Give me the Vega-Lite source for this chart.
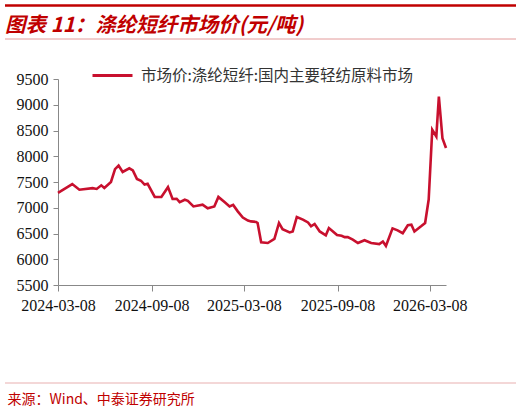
{
  "$schema": "https://vega.github.io/schema/vega-lite/v6.json",
  "width": 388,
  "height": 206,
  "autosize": {"type": "none"},
  "padding": {"left": 58, "top": 79, "right": 75, "bottom": 126},
  "background": "white",
  "title": {
    "text": "图表 11：涤纶短纤市场价(元/吨)",
    "anchor": "start",
    "frame": "group",
    "dx": -53,
    "offset": 0,
    "dy": 32,
    "font": "Noto Sans CJK SC",
    "fontSize": 20.5,
    "fontWeight": "bold",
    "fontStyle": "italic",
    "color": "#C00000"
  },
  "config": {
    "view": {"stroke": null},
    "axis": {"grid": false}
  },
  "layer": [
    {
      "data": {
        "values": [
          {"date": "2024/03/08", "price": 7290, "series": "市场价:涤纶短纤:国内主要轻纺原料市场"},
          {"date": "2024/04/05", "price": 7460, "series": "市场价:涤纶短纤:国内主要轻纺原料市场"},
          {"date": "2024/04/19", "price": 7350, "series": "市场价:涤纶短纤:国内主要轻纺原料市场"},
          {"date": "2024/05/15", "price": 7380, "series": "市场价:涤纶短纤:国内主要轻纺原料市场"},
          {"date": "2024/05/23", "price": 7365, "series": "市场价:涤纶短纤:国内主要轻纺原料市场"},
          {"date": "2024/06/01", "price": 7435, "series": "市场价:涤纶短纤:国内主要轻纺原料市场"},
          {"date": "2024/06/07", "price": 7385, "series": "市场价:涤纶短纤:国内主要轻纺原料市场"},
          {"date": "2024/06/20", "price": 7500, "series": "市场价:涤纶短纤:国内主要轻纺原料市场"},
          {"date": "2024/06/28", "price": 7750, "series": "市场价:涤纶短纤:国内主要轻纺原料市场"},
          {"date": "2024/07/05", "price": 7820, "series": "市场价:涤纶短纤:国内主要轻纺原料市场"},
          {"date": "2024/07/13", "price": 7695, "series": "市场价:涤纶短纤:国内主要轻纺原料市场"},
          {"date": "2024/07/26", "price": 7765, "series": "市场价:涤纶短纤:国内主要轻纺原料市场"},
          {"date": "2024/08/02", "price": 7725, "series": "市场价:涤纶短纤:国内主要轻纺原料市场"},
          {"date": "2024/08/10", "price": 7560, "series": "市场价:涤纶短纤:国内主要轻纺原料市场"},
          {"date": "2024/08/18", "price": 7525, "series": "市场价:涤纶短纤:国内主要轻纺原料市场"},
          {"date": "2024/08/25", "price": 7450, "series": "市场价:涤纶短纤:国内主要轻纺原料市场"},
          {"date": "2024/08/31", "price": 7465, "series": "市场价:涤纶短纤:国内主要轻纺原料市场"},
          {"date": "2024/09/14", "price": 7210, "series": "市场价:涤纶短纤:国内主要轻纺原料市场"},
          {"date": "2024/09/27", "price": 7210, "series": "市场价:涤纶短纤:国内主要轻纺原料市场"},
          {"date": "2024/10/10", "price": 7400, "series": "市场价:涤纶短纤:国内主要轻纺原料市场"},
          {"date": "2024/10/19", "price": 7170, "series": "市场价:涤纶短纤:国内主要轻纺原料市场"},
          {"date": "2024/10/27", "price": 7175, "series": "市场价:涤纶短纤:国内主要轻纺原料市场"},
          {"date": "2024/11/02", "price": 7110, "series": "市场价:涤纶短纤:国内主要轻纺原料市场"},
          {"date": "2024/11/12", "price": 7155, "series": "市场价:涤纶短纤:国内主要轻纺原料市场"},
          {"date": "2024/11/18", "price": 7135, "series": "市场价:涤纶短纤:国内主要轻纺原料市场"},
          {"date": "2024/11/29", "price": 7025, "series": "市场价:涤纶短纤:国内主要轻纺原料市场"},
          {"date": "2024/12/17", "price": 7060, "series": "市场价:涤纶短纤:国内主要轻纺原料市场"},
          {"date": "2024/12/27", "price": 6990, "series": "市场价:涤纶短纤:国内主要轻纺原料市场"},
          {"date": "2025/01/09", "price": 7025, "series": "市场价:涤纶短纤:国内主要轻纺原料市场"},
          {"date": "2025/01/17", "price": 7210, "series": "市场价:涤纶短纤:国内主要轻纺原料市场"},
          {"date": "2025/01/29", "price": 7110, "series": "市场价:涤纶短纤:国内主要轻纺原料市场"},
          {"date": "2025/02/08", "price": 7025, "series": "市场价:涤纶短纤:国内主要轻纺原料市场"},
          {"date": "2025/02/15", "price": 7055, "series": "市场价:涤纶短纤:国内主要轻纺原料市场"},
          {"date": "2025/02/24", "price": 6930, "series": "市场价:涤纶短纤:国内主要轻纺原料市场"},
          {"date": "2025/03/06", "price": 6810, "series": "市场价:涤纶短纤:国内主要轻纺原料市场"},
          {"date": "2025/03/16", "price": 6750, "series": "市场价:涤纶短纤:国内主要轻纺原料市场"},
          {"date": "2025/03/22", "price": 6735, "series": "市场价:涤纶短纤:国内主要轻纺原料市场"},
          {"date": "2025/04/01", "price": 6725, "series": "市场价:涤纶短纤:国内主要轻纺原料市场"},
          {"date": "2025/04/04", "price": 6705, "series": "市场价:涤纶短纤:国内主要轻纺原料市场"},
          {"date": "2025/04/11", "price": 6330, "series": "市场价:涤纶短纤:国内主要轻纺原料市场"},
          {"date": "2025/04/24", "price": 6315, "series": "市场价:涤纶短纤:国内主要轻纺原料市场"},
          {"date": "2025/05/07", "price": 6395, "series": "市场价:涤纶短纤:国内主要轻纺原料市场"},
          {"date": "2025/05/16", "price": 6705, "series": "市场价:涤纶短纤:国内主要轻纺原料市场"},
          {"date": "2025/05/23", "price": 6585, "series": "市场价:涤纶短纤:国内主要轻纺原料市场"},
          {"date": "2025/06/06", "price": 6520, "series": "市场价:涤纶短纤:国内主要轻纺原料市场"},
          {"date": "2025/06/12", "price": 6540, "series": "市场价:涤纶短纤:国内主要轻纺原料市场"},
          {"date": "2025/06/20", "price": 6820, "series": "市场价:涤纶短纤:国内主要轻纺原料市场"},
          {"date": "2025/07/02", "price": 6770, "series": "市场价:涤纶短纤:国内主要轻纺原料市场"},
          {"date": "2025/07/12", "price": 6715, "series": "市场价:涤纶短纤:国内主要轻纺原料市场"},
          {"date": "2025/07/18", "price": 6640, "series": "市场价:涤纶短纤:国内主要轻纺原料市场"},
          {"date": "2025/07/25", "price": 6685, "series": "市场价:涤纶短纤:国内主要轻纺原料市场"},
          {"date": "2025/08/04", "price": 6540, "series": "市场价:涤纶短纤:国内主要轻纺原料市场"},
          {"date": "2025/08/16", "price": 6465, "series": "市场价:涤纶短纤:国内主要轻纺原料市场"},
          {"date": "2025/08/22", "price": 6605, "series": "市场价:涤纶短纤:国内主要轻纺原料市场"},
          {"date": "2025/08/30", "price": 6540, "series": "市场价:涤纶短纤:国内主要轻纺原料市场"},
          {"date": "2025/09/07", "price": 6470, "series": "市场价:涤纶短纤:国内主要轻纺原料市场"},
          {"date": "2025/09/16", "price": 6455, "series": "市场价:涤纶短纤:国内主要轻纺原料市场"},
          {"date": "2025/09/22", "price": 6430, "series": "市场价:涤纶短纤:国内主要轻纺原料市场"},
          {"date": "2025/09/28", "price": 6430, "series": "市场价:涤纶短纤:国内主要轻纺原料市场"},
          {"date": "2025/10/08", "price": 6380, "series": "市场价:涤纶短纤:国内主要轻纺原料市场"},
          {"date": "2025/10/18", "price": 6315, "series": "市场价:涤纶短纤:国内主要轻纺原料市场"},
          {"date": "2025/10/31", "price": 6370, "series": "市场价:涤纶短纤:国内主要轻纺原料市场"},
          {"date": "2025/11/13", "price": 6315, "series": "市场价:涤纶短纤:国内主要轻纺原料市场"},
          {"date": "2025/11/29", "price": 6295, "series": "市场价:涤纶短纤:国内主要轻纺原料市场"},
          {"date": "2025/12/06", "price": 6345, "series": "市场价:涤纶短纤:国内主要轻纺原料市场"},
          {"date": "2025/12/12", "price": 6260, "series": "市场价:涤纶短纤:国内主要轻纺原料市场"},
          {"date": "2025/12/25", "price": 6600, "series": "市场价:涤纶短纤:国内主要轻纺原料市场"},
          {"date": "2026/01/04", "price": 6560, "series": "市场价:涤纶短纤:国内主要轻纺原料市场"},
          {"date": "2026/01/14", "price": 6505, "series": "市场价:涤纶短纤:国内主要轻纺原料市场"},
          {"date": "2026/01/24", "price": 6660, "series": "市场价:涤纶短纤:国内主要轻纺原料市场"},
          {"date": "2026/01/31", "price": 6670, "series": "市场价:涤纶短纤:国内主要轻纺原料市场"},
          {"date": "2026/02/06", "price": 6540, "series": "市场价:涤纶短纤:国内主要轻纺原料市场"},
          {"date": "2026/02/19", "price": 6640, "series": "市场价:涤纶短纤:国内主要轻纺原料市场"},
          {"date": "2026/02/27", "price": 6705, "series": "市场价:涤纶短纤:国内主要轻纺原料市场"},
          {"date": "2026/03/06", "price": 7160, "series": "市场价:涤纶短纤:国内主要轻纺原料市场"},
          {"date": "2026/03/13", "price": 8515, "series": "市场价:涤纶短纤:国内主要轻纺原料市场"},
          {"date": "2026/03/21", "price": 8385, "series": "市场价:涤纶短纤:国内主要轻纺原料市场"},
          {"date": "2026/03/26", "price": 9160, "series": "市场价:涤纶短纤:国内主要轻纺原料市场"},
          {"date": "2026/04/02", "price": 8350, "series": "市场价:涤纶短纤:国内主要轻纺原料市场"},
          {"date": "2026/04/09", "price": 8160, "series": "市场价:涤纶短纤:国内主要轻纺原料市场"}
        ]
      },
      "mark": {"type": "line", "strokeWidth": 2.6, "interpolate": "linear"},
      "encoding": {
        "x": {
          "field": "date",
          "type": "temporal",
          "scale": {
            "domain": [{"year": 2024, "month": 3, "date": 8}, {"year": 2026, "month": 4, "date": 9}]
          },
          "axis": {
            "values": [
              {"year": 2024, "month": 3, "date": 8},
              {"year": 2024, "month": 9, "date": 8},
              {"year": 2025, "month": 3, "date": 8},
              {"year": 2025, "month": 9, "date": 8},
              {"year": 2026, "month": 3, "date": 8}
            ],
            "format": "%Y-%m-%d",
            "labelFont": "Liberation Serif",
            "labelFontSize": 16,
            "labelColor": "#111111",
            "labelPadding": 6,
            "labelOverlap": false,
            "labelFlush": false,
            "domainColor": "#888888",
            "tickColor": "#888888",
            "tickSize": 6,
            "title": "来源：Wind、中泰证券研究所",
            "titleFont": "Noto Sans CJK SC",
            "titleFontSize": 14,
            "titleFontWeight": "normal",
            "titleColor": "#C00000",
            "titleAlign": "left",
            "titleBaseline": "middle",
            "titleAnchor": "start",
            "titleX": -51,
            "titleY": 114
          }
        },
        "y": {
          "field": "price",
          "type": "quantitative",
          "scale": {"domain": [5500, 9500], "nice": false, "zero": false},
          "axis": {
            "values": [5500, 6000, 6500, 7000, 7500, 8000, 8500, 9000, 9500],
            "format": "d",
            "title": null,
            "labelFont": "Liberation Serif",
            "labelFontSize": 16,
            "labelColor": "#111111",
            "labelPadding": 5,
            "domainColor": "#888888",
            "tickColor": "#888888",
            "tickSize": 5
          }
        },
        "color": {
          "field": "series",
          "type": "nominal",
          "scale": {"range": ["#C8102E"]},
          "legend": {
            "title": null,
            "orient": "none",
            "legendX": 33,
            "legendY": -25,
            "symbolType": "stroke",
            "symbolSize": 1600,
            "symbolStrokeWidth": 3,
            "labelFont": "Noto Sans CJK SC",
            "labelFontSize": 15.5,
            "labelColor": "#333333",
            "labelOffset": 7,
            "labelLimit": 400,
            "padding": 0
          }
        }
      }
    },
    {
      "data": {"values": [{"line": "top"}]},
      "mark": {"type": "rule", "color": "#C00000", "strokeWidth": 2.5},
      "encoding": {
        "x": {"value": -53},
        "x2": {"value": 458},
        "y": {"value": -73.5}
      }
    },
    {
      "data": {"values": [{"line": "under-title"}]},
      "mark": {"type": "rule", "color": "#E39A9A", "strokeWidth": 1},
      "encoding": {
        "x": {"value": -53},
        "x2": {"value": 458},
        "y": {"value": -40}
      }
    },
    {
      "data": {"values": [{"line": "above-source"}]},
      "mark": {"type": "rule", "color": "#E8AFAF", "strokeWidth": 1},
      "encoding": {
        "x": {"value": -53},
        "x2": {"value": 458},
        "y": {"value": 304}
      }
    }
  ]
}
